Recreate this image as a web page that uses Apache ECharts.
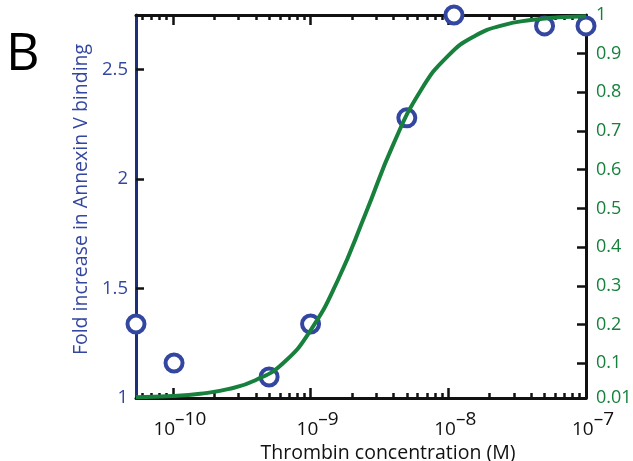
<!DOCTYPE html>
<html><head><meta charset="utf-8">
<script src="https://cdn.jsdelivr.net/npm/echarts@6/dist/echarts.min.js"></script>
<style>html,body{margin:0;padding:0;background:#fff}#c{width:633px;height:461px}</style>
</head><body><div id="c"></div>
<script>
// Measured data (thrombin concentration in M)
const pointX = [5.4e-11, 1.02e-10, 5e-10, 1e-9, 5e-9, 1.1e-8, 5e-8, 1e-7];
const pointY = [1.338, 1.16, 1.096, 1.338, 2.28, 2.75, 2.70, 2.70];
// Fitted curve (right axis, fraction)
const curveX = [5.4e-11, 1e-10, 1.58e-10, 2.51e-10, 3.98e-10, 6.31e-10, 1e-9, 1.58e-9, 2.51e-9, 3.98e-9, 6.31e-9, 1e-8, 1.58e-8, 2.51e-8, 3.98e-8, 6.31e-8, 1e-7];
const curveY = [0.012, 0.015, 0.021, 0.033, 0.056, 0.10, 0.185, 0.315, 0.487, 0.665, 0.805, 0.895, 0.947, 0.974, 0.987, 0.994, 0.997];
// Tick labels
const xMajorTicks = [1e-10, 1e-9, 1e-8, 1e-7];
const xTickExponents = ['–10', '–9', '–8', '–7'];
const xMinorTicks = [6e-11,7e-11,8e-11,9e-11,2e-10,3e-10,4e-10,5e-10,6e-10,7e-10,8e-10,9e-10,2e-9,3e-9,4e-9,5e-9,6e-9,7e-9,8e-9,9e-9,2e-8,3e-8,4e-8,5e-8,6e-8,7e-8,8e-8,9e-8];
const leftTicks = [1, 1.5, 2, 2.5];
const rightTicks = [0.01, 0.1, 0.2, 0.3, 0.4, 0.5, 0.6, 0.7, 0.8, 0.9, 1];

const FONT = 'Open Sans';
const BLUE = '#3447a0';
const GREEN = '#16803c';
const XMIN = 5.4e-11, XMAX = 1e-7;

function xAxisBase(pos, ticks, len, withLine, labels) {
  return {
    type: 'log', logBase: 10, min: XMIN, max: XMAX, position: pos,
    axisLine: {show: withLine, onZero: false, lineStyle: {color: '#111', width: 3}},
    axisTick: {show: true, inside: true, length: len, customValues: ticks, lineStyle: {color: '#111', width: 2.5}},
    minorTick: {show: false},
    splitLine: {show: false},
    axisLabel: labels ? {
      show: true, customValues: xMajorTicks, margin: 12, padding: [0, 0, 0, 14],
      formatter: function (v) {
        const i = xMajorTicks.findIndex(t => Math.abs(Math.log10(t) - Math.log10(v)) < 1e-6);
        return '{b|10}{s|' + (i >= 0 ? xTickExponents[i] : '') + '}';
      },
      rich: {
        b: {fontFamily: FONT, fontSize: 19, color: '#111'},
        s: {fontFamily: FONT, fontSize: 19, color: '#111', padding: [0, 0, 20, 0]}
      }
    } : {show: false}
  };
}

const chart = echarts.init(document.getElementById('c'), null, {renderer: 'canvas'});
chart.setOption({
  animation: false,
  grid: {left: 136, right: 47, top: 15, bottom: 63, containLabel: false, outerBoundsMode: 'none'},
  xAxis: [
    Object.assign(xAxisBase('bottom', xMajorTicks, 10, true, true), {
      name: 'Thrombin concentration (M)', nameLocation: 'middle', nameGap: 40,
      nameTextStyle: {fontFamily: FONT, fontSize: 19.5, color: '#111', padding: [0, 0, 0, 54]}
    }),
    xAxisBase('bottom', xMinorTicks, 5, false, false),
    xAxisBase('top', xMajorTicks, 10, true, false),
    xAxisBase('top', xMinorTicks, 5, false, false)
  ],
  yAxis: [
    {
      type: 'value', min: 1, max: 2.75, interval: 0.5, position: 'left',
      name: 'Fold increase in Annexin V binding', nameLocation: 'middle', nameGap: 44,
      nameTextStyle: {fontFamily: FONT, fontSize: 19.5, color: BLUE, padding: [0, 0, 0, 14]},
      axisLine: {show: true, lineStyle: {color: '#1c2f7c', width: 3}},
      axisTick: {show: true, inside: true, length: 8, customValues: leftTicks, lineStyle: {color: '#111', width: 2.5}},
      axisLabel: {show: true, customValues: leftTicks, margin: 8, fontFamily: FONT, fontSize: 18.5, color: BLUE,
        formatter: v => String(v)},
      splitLine: {show: false}
    },
    {
      type: 'value', min: 0.01, max: 1, position: 'right',
      axisLine: {show: true, lineStyle: {color: '#111', width: 3}},
      axisTick: {show: true, inside: true, length: 9, customValues: rightTicks, lineStyle: {color: '#111', width: 2.5}},
      axisLabel: {show: true, customValues: rightTicks, margin: 10, fontFamily: FONT, fontSize: 18, color: GREEN,
        formatter: v => String(v)},
      splitLine: {show: false}
    }
  ],
  graphic: [{type: 'text', left: 6, top: 29, style: {text: 'B', fontFamily: FONT, fontSize: 52, fill: '#000'}}],
  series: [
    {
      type: 'scatter', xAxisIndex: 0, yAxisIndex: 0, clip: false, z: 5,
      symbol: 'circle', symbolSize: 17,
      itemStyle: {color: '#fff', borderColor: BLUE, borderWidth: 4, opacity: 1},
      data: pointX.map((x, i) => [x, pointY[i]])
    },
    {
      type: 'line', xAxisIndex: 0, yAxisIndex: 1, smooth: true, showSymbol: false, z: 6,
      lineStyle: {color: GREEN, width: 4},
      data: curveX.map((x, i) => [x, curveY[i]])
    }
  ]
});
</script></body></html>
